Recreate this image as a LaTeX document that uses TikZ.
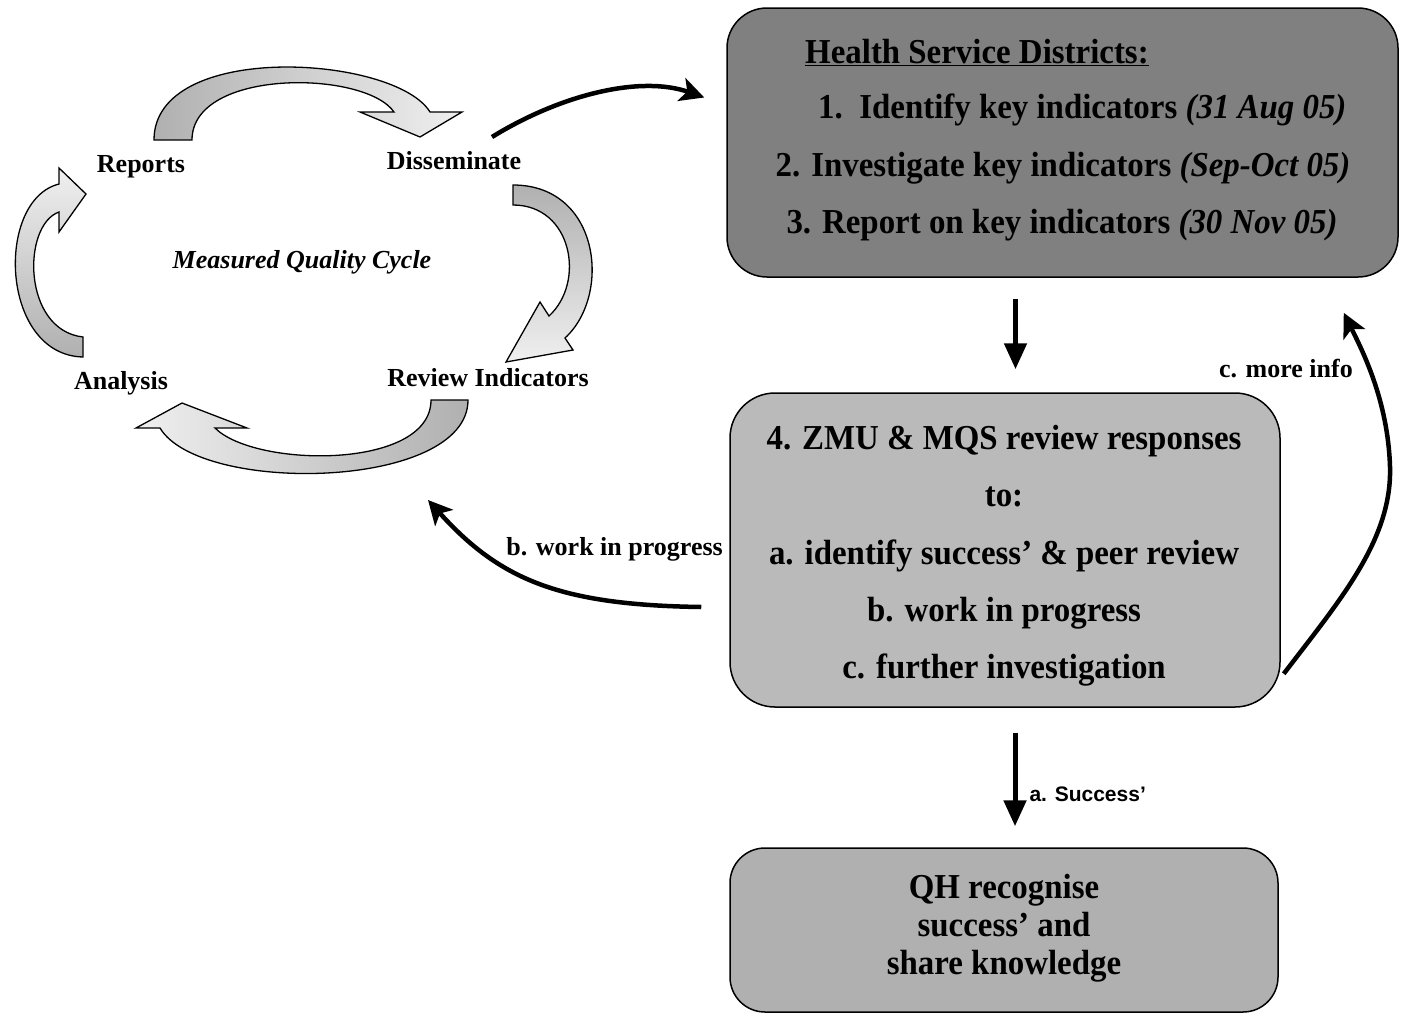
\documentclass[tikz,border=0pt]{standalone}
\usepackage{fontspec}
\setmainfont{Liberation Serif}
\newfontfamily\boxfont{Liberation Serif}[FakeStretch=0.94]
\newfontfamily\arialfont{Liberation Sans}
\usetikzlibrary{arrows.meta,calc}
\begin{document}
\begin{tikzpicture}[x=1pt,y=-1pt,
  box/.style={draw=black,line width=1.5pt,rounded corners=40pt,inner sep=0pt},
  boxtext/.style={font=\boxfont\fontsize{35}{38}\selectfont\bfseries,inner sep=0pt,text=black,anchor=base},
  cyctext/.style={font=\fontsize{26}{30}\selectfont\bfseries,inner sep=0pt,anchor=base},
  thickarr/.style={line width=5pt,-{Triangle[width=22pt,length=26pt]}},
  curvearr/.style={line width=4.5pt,-{Stealth[width=24pt,length=24pt,inset=6pt]}},
  blockarr/.style={draw=black,line width=1.3pt,line join=miter}
]
\useasboundingbox (0,0) rectangle (1407,1015);

% ---------- Boxes ----------
\node[box,fill=black!50,minimum width=671pt,minimum height=269pt] (hsd) at (1062.5,142.5) {};
\node[box,fill=black!27,minimum width=550pt,minimum height=314pt,rounded corners=45pt] (zmu) at (1005,550) {};
\node[box,fill=black!31,minimum width=548pt,minimum height=164pt,rounded corners=35pt] (qh) at (1004,930) {};

% ---------- Box texts ----------
\node[boxtext,anchor=base west] (h0) at (805,63) {\underline{Health Service Districts:}};
\node[boxtext,anchor=base west] (h1) at (818,118) {1.\ \ Identify key indicators \textit{(31 Aug 05)}};
\node[boxtext] (h2) at (1063,176) {2. Investigate key indicators \textit{(Sep-Oct 05)}};
\node[boxtext] (h3) at (1062,233) {3. Report on key indicators \textit{(30 Nov 05)}};

\node[boxtext] (z1) at (1004,449) {4. ZMU \& MQS review responses};
\node[boxtext] (z2) at (1004,506) {to:};
\node[boxtext] (z3) at (1004,564) {a. identify success’ \& peer review};
\node[boxtext] (z4) at (1004,621) {b. work in progress};
\node[boxtext] (z5) at (1004,678) {c. further investigation};

\node[boxtext] (q1) at (1004,898) {QH recognise};
\node[boxtext] (q2) at (1004,936) {success’ and};
\node[boxtext] (q3) at (1004,974) {share knowledge};

% ---------- Straight arrows ----------
\draw[thickarr,shorten <=21pt,shorten >=23pt] ([xshift=-47pt]hsd.south) -- ([xshift=-47pt]hsd.south |- zmu.north);
\draw[thickarr,shorten <=25pt,shorten >=21pt] ([xshift=10pt]zmu.south) -- ([xshift=10pt]zmu.south |- qh.north)
  node[pos=0.62,right=12pt,font=\arialfont\fontsize{21}{24}\selectfont\bfseries,inner sep=0pt] (succ) {a. Success’};

% ---------- Cycle labels ----------
\node[cyctext] (rep) at (141,172) {Reports};
\node[cyctext] (dis) at (454,169) {Disseminate};
\node[cyctext,font=\fontsize{26}{30}\selectfont\bfseries\itshape] (mqc) at (302,268) {Measured Quality Cycle};
\node[cyctext] (ana) at (121,389) {Analysis};
\node[cyctext] (rev) at (488,386) {Review Indicators};

% ---------- Block arrows of the cycle ----------
% top: Reports -> Disseminate
\path[blockarr,left color=gray!62,right color=gray!12]
  (192,140) -- (154,140) .. controls (154,40) and (395,55) .. (430,112)
  -- (462,112) -- (420,137) -- (360,112) -- (394,112)
  .. controls (365,70) and (192,68) .. (192,140) -- cycle;
% right: Disseminate -> Review Indicators
\path[blockarr,top color=gray!62,bottom color=gray!12]
  (513,205) -- (513,185) .. controls (600,185) and (612,295) .. (565,338)
  -- (573,350) -- (506,362) -- (540,302) -- (549,316)
  .. controls (586,282) and (572,205) .. (513,205) -- cycle;
% bottom: Review Indicators -> Analysis
\path[blockarr,right color=gray!62,left color=gray!12]
  (431,400) -- (468,400) .. controls (468,490) and (200,495) .. (160,428)
  -- (136,428) -- (182,403) -- (247,428) -- (215,428)
  .. controls (255,468) and (431,470) .. (431,400) -- cycle;
% left: Analysis -> Reports
\path[blockarr,bottom color=gray!62,top color=gray!12]
  (83,337) -- (83,357) .. controls (0,355) and (-5,200) .. (59,184)
  -- (59,168) -- (86,194) -- (59,232) -- (59,212)
  .. controls (22,225) and (22,330) .. (83,337) -- cycle;

% ---------- Curved connectors ----------
\coordinate (dstart) at (492,137);
\draw[curvearr] (dstart) .. controls (560,95) and (640,75) .. ([xshift=-22pt,yshift=45pt]hsd.west);

\coordinate (bwp) at (428,500);
\draw[curvearr] ([xshift=-28pt,yshift=-57pt]zmu.west) .. controls (560,605) and (500,580) .. (bwp);
\node[cyctext,anchor=base east] (bwl) at (723,555) {b. work in progress};

\draw[curvearr] ([xshift=3pt,yshift=34pt]zmu.south east) .. controls (1340,600) and (1392,540) .. (1390,467)
  .. controls (1388,400) and (1362,350) .. ([xshift=-55pt,yshift=-35pt]hsd.south east);
\node[cyctext,anchor=base east] (cmi) at (1353,377) {c. more info};
\end{tikzpicture}
\end{document}
